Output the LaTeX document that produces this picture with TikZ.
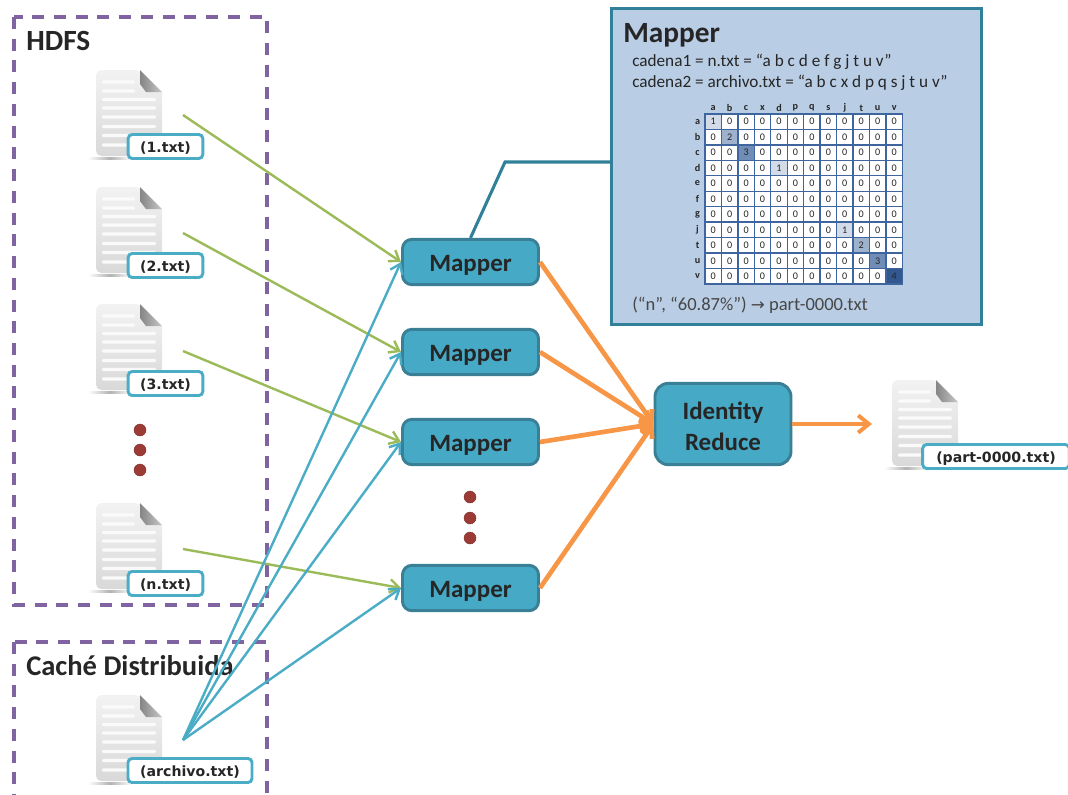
\documentclass[tikz,border=0pt]{standalone}
\usepackage{fontspec}
\setmainfont{Carlito}
\newfontfamily\lblfont{DejaVu Sans}
\newfontfamily\arrfont{DejaVu Sans}
\usetikzlibrary{arrows.meta,shadows}
\definecolor{cGreen}{HTML}{9BBB59}
\definecolor{cBlue}{HTML}{4BACC6}
\definecolor{cOrange}{HTML}{F79646}
\definecolor{cPurple}{HTML}{8064A2}
\definecolor{cNode}{HTML}{46A9C5}
\definecolor{cEdge}{HTML}{3A7F96}
\definecolor{cPanel}{HTML}{B9CDE5}
\definecolor{cPanelEdge}{HTML}{31809A}
\definecolor{cDot}{HTML}{9C3A36}
\definecolor{cGrid}{HTML}{3F659E}
\definecolor{cTxt}{HTML}{262626}
\definecolor{cOne}{HTML}{D2DBE7}
\definecolor{cTwo}{HTML}{9EB2CE}
\definecolor{cThree}{HTML}{6F8DB6}
\definecolor{cFour}{HTML}{33588F}
\tikzset{
  x=0.75pt,y=-0.75pt,
  proc/.style={draw=cEdge,line width=2.2pt,fill=cNode,rounded corners=7pt,
    minimum width=102pt,minimum height=34pt,inner sep=0pt,align=center,
    text=cTxt,font=\fontsize{18.7}{23.2}\selectfont\bfseries,
    drop shadow={opacity=.25,shadow xshift=.8pt,shadow yshift=-.8pt}},
  lbl/.style={draw=cBlue,line width=2.2pt,fill=white,rounded corners=3pt,
    minimum height=18pt,inner sep=0pt,text=cTxt,text height=10.3pt,text depth=2pt,
    font=\lblfont\fontsize{10.6}{12}\selectfont\bfseries},
  region/.style={draw=cPurple,line width=2.5pt,dash pattern=on 9pt off 7.3pt},
  head/.style={anchor=base west,inner sep=0pt,text=cTxt,font=\fontsize{22}{26}\selectfont\bfseries},
  pane/.style={anchor=base west,inner sep=0pt,text=cTxt,font=\fontsize{12.9}{16}\selectfont},
  greenarrow/.style={draw=cGreen,line width=1.8pt,-{Straight Barb[length=7pt,width=10pt]}},
  bluearrow/.style={draw=cBlue,line width=1.8pt,-{Straight Barb[length=7pt,width=10pt]}},
  orangearrow/.style={draw=cOrange,line width=3.5pt,-{Straight Barb[length=7pt,width=11pt]}},
  orangethin/.style={draw=cOrange,line width=3pt,-{Straight Barb[length=8pt,width=13pt]}},
  reddot/.style={circle,fill=cDot,draw=cDot!80!black,line width=.3pt,minimum size=9pt,inner sep=0pt},
  cellbox/.style={draw=cGrid,line width=1pt,minimum width=12.34pt,minimum height=11.6pt,inner sep=0pt,
    font=\fontsize{7.6}{9}\selectfont,text=cTxt},
  axis/.style={inner sep=0pt,font=\fontsize{7.6}{9}\selectfont\bfseries,text=cTxt},
  pics/docicon/.style={code={
    \path[left color=white,right color=black!30] (-8,87) rectangle (14,89);
    \path[left color=black!30,right color=white] (14,87) rectangle (36,89);
    \path[top color=black!5,bottom color=black!15,rounded corners=4pt]
      (0,86) -- (0,0) -- (44,0) [sharp corners] -- (66,22) [rounded corners=4pt] -- (66,86) -- cycle;
    \path[left color=black!48,right color=black!22] (44,0) -- (66,22) -- (50,22) -- (44,14) -- cycle;
    \foreach \yy in {12,21}{\fill[black!2,rounded corners=1pt] (6,\yy-1.6) rectangle (39,\yy+1.6);}
    \foreach \yy in {29.5,38,47,56.5,65.5,75}{\fill[black!2,rounded corners=1pt] (6,\yy-1.6) rectangle (60,\yy+1.6);}
  }}
}
\begin{document}
\begin{tikzpicture}
\clip (0,0) rectangle (1068,794);
\useasboundingbox (0,0) rectangle (1068,794);

% regions
\draw[region] (14,17) rectangle (267,605);
\draw[region] (14,642) rectangle (267,830);
\node[head] (hdfs) at (26,50) {HDFS};
\node[head,font=\fontsize{21.4}{26}\selectfont\bfseries] (cache) at (26,675) {Caché Distribuida};

% documents
\pic at (96,70) {docicon};
\pic at (96,187) {docicon};
\pic at (96,304) {docicon};
\pic at (96,503) {docicon};
\pic at (96,695) {docicon};
\pic at (892,380) {docicon};

\node[lbl,minimum width=56pt] (l1) at (165.5,146.5) {(1.txt)};
\node[lbl,minimum width=56pt] (l2) at (165.5,265.5) {(2.txt)};
\node[lbl,minimum width=56pt] (l3) at (165.5,383.5) {(3.txt)};
\node[lbl,minimum width=56pt] (ln) at (165.5,583.5) {(n.txt)};
\node[lbl,minimum width=93pt] (la) at (190,770.5) {(archivo.txt)};
\node[lbl,minimum width=110pt] (lp) at (996,456.5) {(part-0000.txt)};

% dots
\node[reddot] (d1) at (140,430) {};
\node[reddot] (d2) at (140,450) {};
\node[reddot] (d3) at (140,470) {};
\node[reddot] (d4) at (470,497) {};
\node[reddot] (d5) at (470,518) {};
\node[reddot] (d6) at (470,538) {};

% process nodes
\node[proc] (m1) at (470.5,262) {\rule{0pt}{17pt}Mapper};
\node[proc] (m2) at (470.5,352) {\rule{0pt}{17pt}Mapper};
\node[proc] (m3) at (470.5,442) {\rule{0pt}{17pt}Mapper};
\node[proc] (m4) at (470.5,588) {\rule{0pt}{17pt}Mapper};
\node[proc,minimum height=61pt,rounded corners=10pt] (ir) at (723,424) {\rule{0pt}{16pt}Identity\\Reduce};

% free ends
\coordinate (s1) at (183,115);
\coordinate (s2) at (183,233);
\coordinate (s3) at (183,351);
\coordinate (s4) at (183,549);
\coordinate (sa) at (183,740);
\coordinate (out) at (872,424);
\coordinate (bend) at (505,162);

% connectors
\draw[greenarrow] (s1) -- (m1.west);
\draw[greenarrow] (s2) -- (m2.west);
\draw[greenarrow] (s3) -- (m3.west);
\draw[greenarrow] (s4) -- (m4.west);
\draw[bluearrow] (sa) -- (m1.west);
\draw[bluearrow] (sa) -- (m2.west);
\draw[bluearrow] (sa) -- (m3.west);
\draw[bluearrow] (sa) -- (m4.west);
\draw[orangearrow] (m1.east) -- (ir.west);
\draw[orangearrow] (m2.east) -- (ir.west);
\draw[orangearrow] (m3.east) -- (ir.west);
\draw[orangearrow] (m4.east) -- (ir.west);
\draw[orangethin] (ir.east) -- (out);

% detail panel
\node[draw=cPanelEdge,line width=2.3pt,fill=cPanel,minimum width=277.5pt,minimum height=237.5pt,inner sep=0pt] (panel) at (796.5,166.5) {};
\draw[draw=cPanelEdge,line width=2.3pt] (m1.north) -- (bend) -- (panel.west |- bend);
\node[head] (ptitle) at (623,42) {Mapper};
\node[pane] (c1) at (632,66) {cadena1 = n.txt = “a b c d e f g j t u v”};
\node[pane] (c2) at (632,87) {cadena2 = archivo.txt = “a b c x d p q s j t u v”};
\node[pane,text=cTxt!85!white,font=\fontsize{13.9}{17}\selectfont] (res) at (632,310) {(“n”, “60.87\%”) {\arrfont\fontsize{12.5}{14}\selectfont→} part-0000.txt};

% matrix
\foreach \c [count=\i from 0] in {a,b,c,x,d,p,q,s,j,t,u,v}
  \node[axis] (col\i) at (713.2+16.45*\i,108) {\c};
\foreach \c [count=\j from 0] in {a,b,c,d,e,f,g,j,t,u,v}
  \node[axis] (row\j) at (697.5,121.7+15.45*\j) {\c};
\foreach \j in {0,...,10}\foreach \i in {0,...,11}
  \node[cellbox,fill=white] (c\i-\j) at (713.2+16.45*\i,121.7+15.45*\j) {0};
\node[cellbox,fill=cOne] (h1) at (713.2,121.7) {1};
\node[cellbox,fill=cTwo] (h2) at (729.65,137.15) {2};
\node[cellbox,fill=cThree] (h3) at (746.1,152.6) {3};
\node[cellbox,fill=cOne] (h4) at (779,168.05) {1};
\node[cellbox,fill=cOne] (h5) at (844.8,229.85) {1};
\node[cellbox,fill=cTwo] (h6) at (861.25,245.3) {2};
\node[cellbox,fill=cThree] (h7) at (877.7,260.75) {3};
\node[cellbox,fill=cFour] (h8) at (894.15,276.2) {4};
\end{tikzpicture}
\end{document}
